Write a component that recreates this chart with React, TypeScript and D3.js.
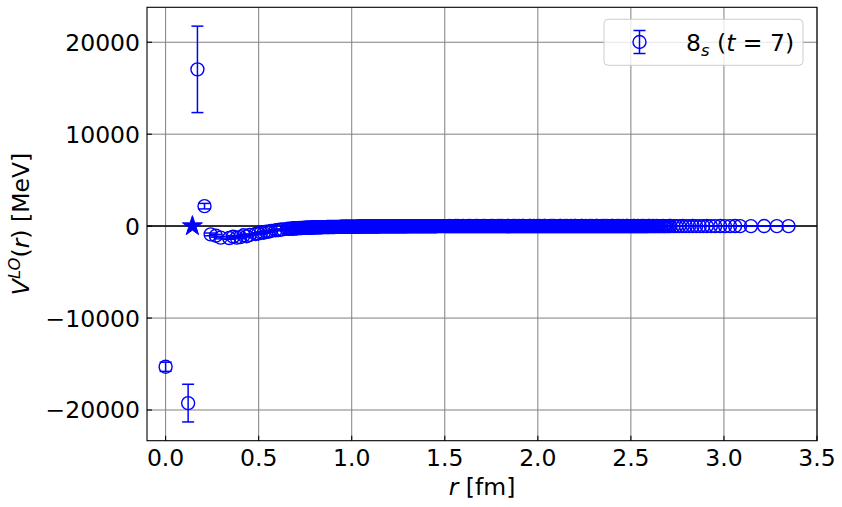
import React from "react";
import * as d3 from "d3";

// LO potential in the 8_s channel at t = 7, r in fm, V and error in MeV

const xTicks = [0, 0.5, 1, 1.5, 2, 2.5, 3, 3.5];
const yTicks = [-20000, -10000, 0, 10000, 20000];

// shortest lattice distances (large values, big error bars)
const coreR = [0.0, 0.121, 0.171, 0.209];
const coreV = [-15300, -19250, 17050, 2170];
const coreErr = [500, 2050, 4700, 300];

// separate star marker
const starR = [0.144];
const starV = [0];

// [r, V, err] for the rest of the lattice points
const headPts: [number, number, number][] = [
  [0.242, -900, 150], [0.27, -1050, 150], [0.296, -1250, 140], [0.342, -1300, 130],
  [0.363, -1150, 120], [0.382, -1250, 120], [0.401, -1200, 110], [0.419, -1000, 100],
  [0.436, -1100, 100], [0.452, -950, 90], [0.484, -850, 80], [0.498, -800, 80],
  [0.513, -700, 70], [0.527, -720, 70], [0.541, -620, 60], [0.554, -600, 60],
  [0.567, -520, 60], [0.592, -450, 50], [0.605, -430, 50], [0.616, -380, 50],
  [0.628, -360, 40], [0.651, -300, 40], [0.662, -290, 40],
];

const midPts: [number, number, number][] = [
  [0.673, -270, 40], [0.684, -260, 40], [0.697, -240, 40], [0.706, -230, 35], [0.719, -210, 35], [0.73, -200, 35],
  [0.741, -190, 35], [0.755, -175, 30], [0.764, -170, 30], [0.777, -160, 30], [0.788, -150, 30], [0.799, -145, 30],
  [0.812, -135, 30], [0.823, -130, 25], [0.834, -120, 25], [0.846, -115, 25], [0.857, -110, 25], [0.869, -100, 25],
  [0.88, -100, 25], [0.892, -95, 25], [0.903, -90, 20], [0.915, -85, 20], [0.926, -80, 20], [0.938, -80, 20],
  [0.949, -75, 20], [0.961, -70, 20], [0.972, -70, 20], [0.984, -65, 20], [0.995, -60, 20], [1.007, -60, 20],
  [1.018, -55, 20], [1.03, -55, 20], [1.041, -50, 20], [1.053, -50, 20], [1.064, -45, 15], [1.076, -45, 15],
  [1.087, -40, 15], [1.099, -40, 15], [1.11, -40, 15], [1.122, -35, 15], [1.133, -35, 15], [1.145, -35, 15],
  [1.156, -30, 15], [1.168, -30, 15], [1.179, -30, 15], [1.191, -30, 15], [1.202, -25, 15], [1.214, -25, 15],
  [1.225, -25, 15], [1.237, -25, 15], [1.248, -20, 15], [1.26, -20, 15], [1.271, -20, 15], [1.283, -20, 15],
  [1.294, -20, 15], [1.306, -15, 15], [1.317, -15, 15], [1.329, -15, 15], [1.34, -15, 15], [1.352, -15, 15],
  [1.363, -15, 15], [1.375, -10, 15], [1.386, -10, 15], [1.398, -10, 15], [1.409, -10, 15], [1.421, -10, 15],
  [1.432, -10, 15], [1.444, -10, 15], [1.455, -10, 15], [1.467, -5, 15], [1.478, -5, 15], [1.49, -5, 15],
];

// off-axis points lying between the ones above
const midOffPts: [number, number, number][] = [
  [0.679, -280, 40], [0.69, -250, 40], [0.701, -245, 40], [0.712, -220, 35], [0.724, -215, 35], [0.735, -195, 35],
  [0.748, -185, 35], [0.76, -180, 30], [0.77, -165, 30], [0.782, -155, 30], [0.793, -150, 30], [0.805, -140, 30],
  [0.817, -135, 30], [0.828, -125, 25], [0.84, -120, 25], [0.851, -110, 25], [0.863, -105, 25], [0.874, -100, 25],
  [0.886, -95, 25], [0.897, -90, 25], [0.909, -90, 20], [0.92, -85, 20], [0.932, -80, 20], [0.943, -75, 20],
  [0.955, -75, 20], [0.966, -70, 20], [0.978, -65, 20], [0.989, -65, 20], [1.001, -60, 20], [1.012, -55, 20],
  [1.024, -55, 20], [1.035, -50, 20], [1.047, -50, 20], [1.058, -45, 15], [1.07, -45, 15], [1.081, -45, 15],
  [1.093, -40, 15], [1.104, -40, 15], [1.116, -35, 15], [1.127, -35, 15], [1.139, -35, 15], [1.15, -30, 15],
  [1.162, -30, 15], [1.173, -30, 15], [1.185, -30, 15], [1.196, -25, 15], [1.208, -25, 15], [1.219, -25, 15],
  [1.231, -25, 15], [1.242, -20, 15], [1.254, -20, 15], [1.265, -20, 15], [1.277, -20, 15], [1.288, -20, 15],
  [1.3, -15, 15], [1.311, -15, 15], [1.323, -15, 15], [1.334, -15, 15], [1.346, -15, 15], [1.357, -15, 15],
  [1.369, -10, 15], [1.38, -10, 15], [1.392, -10, 15], [1.403, -10, 15], [1.415, -10, 15], [1.426, -10, 15],
  [1.438, -10, 15], [1.449, -10, 15], [1.461, -5, 15], [1.472, -5, 15], [1.484, -5, 15],
];

const farPts: [number, number, number][] = [
  [1.498, -5, 15], [1.506, 0, 15], [1.514, -5, 15], [1.522, -5, 15], [1.53, 0, 15], [1.538, -5, 15],
  [1.546, 0, 15], [1.554, -5, 15], [1.562, 0, 15], [1.57, 5, 15], [1.578, 0, 15], [1.586, -5, 15],
  [1.594, 0, 15], [1.602, 0, 15], [1.61, -5, 15], [1.618, 0, 15], [1.626, 5, 15], [1.634, 0, 15],
  [1.642, -5, 15], [1.65, 0, 15], [1.658, 0, 15], [1.666, 5, 15], [1.674, 0, 15], [1.682, -5, 15],
  [1.69, 0, 15], [1.698, 0, 15], [1.706, 5, 15], [1.714, 0, 15], [1.722, 0, 15], [1.73, -5, 15],
  [1.738, 0, 15], [1.746, 5, 15], [1.754, 0, 15], [1.762, 0, 15], [1.77, -5, 15], [1.778, 0, 15],
  [1.786, 5, 15], [1.794, 0, 15], [1.802, 0, 15], [1.81, 5, 15], [1.818, 0, 15], [1.826, -5, 15],
  [1.834, 0, 15], [1.842, 5, 15], [1.85, 0, 15], [1.858, 0, 15], [1.866, 5, 15], [1.874, 0, 15],
  [1.882, -5, 15], [1.89, 0, 15], [1.898, 5, 15], [1.906, 0, 15], [1.914, 0, 15], [1.922, 5, 15],
  [1.93, 0, 15], [1.938, -5, 15], [1.946, 0, 15], [1.954, 5, 15], [1.962, 0, 15], [1.97, 0, 15],
  [1.978, 5, 15], [1.986, 0, 15], [1.994, -5, 15], [2.002, 0, 15], [2.01, 5, 15], [2.018, 0, 15],
  [2.026, 0, 15], [2.034, 5, 15], [2.042, 0, 15], [2.05, -5, 15], [2.058, 0, 15], [2.066, 5, 15],
  [2.074, 0, 15], [2.082, 0, 15], [2.09, 5, 15], [2.098, 0, 15], [2.106, -5, 15], [2.114, 0, 15],
  [2.122, 5, 15], [2.13, 0, 15], [2.138, 0, 15], [2.146, 5, 15], [2.154, 0, 15], [2.162, -5, 15],
  [2.17, 0, 15], [2.178, 5, 15], [2.186, 0, 15], [2.194, 0, 15], [2.202, 5, 15], [2.21, 0, 15],
  [2.218, -5, 15], [2.226, 0, 15], [2.234, 5, 15], [2.242, 0, 15], [2.25, 0, 15], [2.258, 5, 15],
  [2.266, 0, 15], [2.274, -5, 15], [2.282, 0, 15], [2.29, 5, 15], [2.298, 0, 15], [2.306, 0, 15],
  [2.314, 5, 15], [2.322, 0, 15], [2.33, -5, 15], [2.338, 0, 15], [2.346, 5, 15], [2.354, 0, 15],
  [2.362, 0, 15], [2.37, 5, 15], [2.378, 0, 15], [2.386, -5, 15], [2.394, 0, 15], [2.402, 5, 15],
  [2.41, 0, 15], [2.418, 0, 15], [2.426, 5, 15], [2.434, 0, 15], [2.442, -5, 15], [2.45, 0, 15],
  [2.458, 5, 15], [2.466, 0, 15], [2.474, 0, 15], [2.482, 5, 15], [2.49, 0, 15], [2.498, -5, 15],
  [2.506, 0, 15], [2.514, 5, 15], [2.522, 0, 15], [2.53, 0, 15], [2.538, 5, 15], [2.546, 0, 15],
  [2.554, -5, 15], [2.562, 0, 15], [2.57, 5, 15], [2.578, 0, 15], [2.586, 0, 15], [2.594, 5, 15],
  [2.606, 0, 15], [2.619, 5, 15], [2.63, 0, 15], [2.645, -5, 15], [2.657, 0, 15], [2.672, 5, 15],
  [2.684, 0, 15], [2.699, 0, 15], [2.713, 5, 15], [2.729, 0, 15], [2.744, -5, 15], [2.76, 0, 15],
  [2.778, 5, 15], [2.795, 0, 15], [2.813, 0, 15], [2.832, 5, 15], [2.851, 0, 15], [2.87, -5, 15],
  [2.889, 0, 15], [2.908, 5, 15], [2.93, 0, 15], [2.953, 0, 15], [2.98, 5, 15], [3.006, 0, 15],
  [3.033, 0, 15], [3.06, 5, 15], [3.087, 0, 15], [3.145, 0, 15], [3.216, 5, 15], [3.284, 0, 15],
  [3.347, 0, 15],
];

const farOffPts: [number, number, number][] = [
  [1.502, 0, 15], [1.51, -5, 15], [1.518, 0, 15], [1.526, 5, 15], [1.534, 0, 15], [1.542, -5, 15],
  [1.55, 0, 15], [1.558, 5, 15], [1.566, 0, 15], [1.574, 0, 15], [1.582, -5, 15], [1.59, 0, 15],
  [1.598, 5, 15], [1.606, 0, 15], [1.614, 0, 15], [1.622, -5, 15], [1.63, 0, 15], [1.638, 5, 15],
  [1.646, 0, 15], [1.654, 0, 15], [1.662, -5, 15], [1.67, 0, 15], [1.678, 5, 15], [1.686, 0, 15],
  [1.694, 0, 15], [1.702, -5, 15], [1.71, 0, 15], [1.718, 5, 15], [1.726, 0, 15], [1.734, 0, 15],
  [1.742, -5, 15], [1.75, 0, 15], [1.758, 5, 15], [1.766, 0, 15], [1.774, 0, 15], [1.782, -5, 15],
  [1.79, 0, 15], [1.798, 5, 15], [1.806, 0, 15], [1.814, 0, 15], [1.822, -5, 15], [1.83, 0, 15],
  [1.838, 5, 15], [1.846, 0, 15], [1.854, 0, 15], [1.862, -5, 15], [1.87, 0, 15], [1.878, 5, 15],
  [1.886, 0, 15], [1.894, 0, 15], [1.902, -5, 15], [1.91, 0, 15], [1.918, 5, 15], [1.926, 0, 15],
  [1.934, 0, 15], [1.942, -5, 15], [1.95, 0, 15], [1.958, 5, 15], [1.966, 0, 15], [1.974, 0, 15],
  [1.982, -5, 15], [1.99, 0, 15], [1.998, 5, 15], [2.006, 0, 15], [2.014, 0, 15], [2.022, -5, 15],
  [2.03, 0, 15], [2.038, 5, 15], [2.046, 0, 15], [2.054, 0, 15], [2.062, -5, 15], [2.07, 0, 15],
  [2.078, 5, 15], [2.086, 0, 15], [2.094, 0, 15], [2.102, -5, 15], [2.11, 0, 15], [2.118, 5, 15],
  [2.126, 0, 15], [2.134, 0, 15], [2.142, -5, 15], [2.15, 0, 15], [2.158, 5, 15], [2.166, 0, 15],
  [2.174, 0, 15], [2.182, -5, 15], [2.19, 0, 15], [2.198, 5, 15], [2.206, 0, 15], [2.214, 0, 15],
  [2.222, -5, 15], [2.23, 0, 15], [2.238, 5, 15], [2.246, 0, 15], [2.254, 0, 15], [2.262, -5, 15],
  [2.27, 0, 15], [2.278, 5, 15], [2.286, 0, 15], [2.294, 0, 15], [2.302, -5, 15], [2.31, 0, 15],
  [2.318, 5, 15], [2.326, 0, 15], [2.334, 0, 15], [2.342, -5, 15], [2.35, 0, 15], [2.358, 5, 15],
  [2.366, 0, 15], [2.374, 0, 15], [2.382, -5, 15], [2.39, 0, 15], [2.398, 5, 15], [2.406, 0, 15],
  [2.414, 0, 15], [2.422, -5, 15], [2.43, 0, 15], [2.438, 5, 15], [2.446, 0, 15], [2.454, 0, 15],
  [2.462, -5, 15], [2.47, 0, 15], [2.478, 5, 15], [2.486, 0, 15], [2.494, 0, 15], [2.502, -5, 15],
  [2.51, 0, 15], [2.518, 5, 15], [2.526, 0, 15], [2.534, 0, 15], [2.542, -5, 15], [2.55, 0, 15],
  [2.558, 5, 15], [2.566, 0, 15], [2.574, 0, 15], [2.582, -5, 15], [2.59, 0, 15], [2.6, 5, 15],
  [2.612, 0, 15], [2.625, 0, 15], [2.638, 5, 15], [2.651, 0, 15], [2.664, 0, 15], [2.678, -5, 15],
  [2.691, 0, 15], [2.706, 5, 15],
];

const BLUE = "#0000ff";
const FONT = "'DejaVu Sans', sans-serif";
const FS = 23.5;

const left = 147, right = 817, top = 7.3, bottom = 440.7;

const x = d3.scaleLinear().domain([-0.1, 3.5]).range([left, right]);
const y = d3.scaleLinear().domain([-23340, 23800]).range([bottom, top]);

const fmtY = (v: number) => (v < 0 ? "\u2212" + Math.abs(v) : String(v));

const starPath = (cx: number, cy: number, R: number) => {
  const inner = R * 0.382;
  const pts: [number, number][] = [];
  for (let i = 0; i < 10; i++) {
    const a = -Math.PI / 2 + (i * Math.PI) / 5;
    const rr = i % 2 === 0 ? R : inner;
    pts.push([cx + rr * Math.cos(a), cy + rr * Math.sin(a)]);
  }
  return d3.line()(pts) + "Z";
};

const ErrPoint = ({ cx, cy, y0, y1 }: { cx: number; cy: number; y0: number; y1: number }) => (
  <g>
    <line x1={cx} x2={cx} y1={y0} y2={y1} stroke={BLUE} strokeWidth={1.5} />
    <line x1={cx - 6} x2={cx + 6} y1={y0} y2={y0} stroke={BLUE} strokeWidth={1.5} />
    <line x1={cx - 6} x2={cx + 6} y1={y1} y2={y1} stroke={BLUE} strokeWidth={1.5} />
    <circle cx={cx} cy={cy} r={6.5} fill="none" stroke={BLUE} strokeWidth={1.4} />
  </g>
);

export default function App() {
  const allPts: [number, number, number][] = [
    ...coreR.map((r, i) => [r, coreV[i], coreErr[i]] as [number, number, number]),
    ...headPts,
    ...midPts,
    ...midOffPts,
    ...farPts,
    ...farOffPts,
  ];

  return (
    <svg width={842} height={507} style={{ display: "block", position: "absolute", left: 0, top: 0 }}>
      <rect x={0} y={0} width={842} height={507} fill="white" />
      {/* grid */}
      {xTicks.map((t) => (
        <line key={"gx" + t} x1={x(t)} x2={x(t)} y1={top} y2={bottom} stroke="#808080" strokeWidth={1} />
      ))}
      {yTicks.map((t) => (
        <line key={"gy" + t} x1={left} x2={right} y1={y(t)} y2={y(t)} stroke="#808080" strokeWidth={1} />
      ))}
      {/* zero line */}
      <line x1={left} x2={right} y1={y(0)} y2={y(0)} stroke="black" strokeWidth={1.5} />

      {/* data */}
      {allPts.map(([r, v, e], i) => (
        <ErrPoint key={i} cx={x(r)} cy={y(v)} y0={y(v + e)} y1={y(v - e)} />
      ))}
      {starR.map((r, i) => (
        <path key={"s" + i} d={starPath(x(r), y(starV[i]), 10.5)} fill={BLUE} stroke={BLUE} strokeWidth={1} />
      ))}

      {/* frame */}
      <rect x={left} y={top} width={right - left} height={bottom - top} fill="none" stroke="black" strokeWidth={1.1} />

      {/* ticks */}
      {xTicks.map((t) => (
        <g key={"tx" + t}>
          <line x1={x(t)} x2={x(t)} y1={bottom} y2={bottom - 5} stroke="black" strokeWidth={1.1} />
          <text x={x(t)} y={bottom + 25} fontFamily={FONT} fontSize={FS} textAnchor="middle" fill="black">
            {t.toFixed(1)}
          </text>
        </g>
      ))}
      {yTicks.map((t) => (
        <g key={"ty" + t}>
          <line x1={left} x2={left + 5} y1={y(t)} y2={y(t)} stroke="black" strokeWidth={1.1} />
          <text x={left - 7} y={y(t)} dy="0.36em" fontFamily={FONT} fontSize={FS} textAnchor="end" fill="black">
            {fmtY(t)}
          </text>
        </g>
      ))}

      {/* axis labels */}
      <text x={(left + right) / 2} y={495} fontFamily={FONT} fontSize={FS} textAnchor="middle" fill="black">
        <tspan fontStyle="italic">r</tspan>
        <tspan> [fm]</tspan>
      </text>
      <text
        transform={`translate(29, ${(top + bottom) / 2}) rotate(-90)`}
        fontFamily={FONT}
        fontSize={FS}
        textAnchor="middle"
        fill="black"
      >
        <tspan fontStyle="italic">V</tspan>
        <tspan fontStyle="italic" fontSize={FS * 0.7} dy={-9}>LO</tspan>
        <tspan dy={9}>(</tspan>
        <tspan fontStyle="italic">r</tspan>
        <tspan>) [MeV]</tspan>
      </text>

      {/* legend */}
      <g>
        <rect x={604} y={19.3} width={199} height={46} rx={4} fill="white" fillOpacity={0.8} stroke="#cccccc" strokeWidth={1} />
        <ErrPoint cx={639.5} cy={42} y0={30.5} y1={53.5} />
        <text x={686} y={50.5} fontFamily={FONT} fontSize={FS} fill="black">
          <tspan>8</tspan>
          <tspan fontStyle="italic" fontSize={FS * 0.7} dy={5}>s</tspan>
          <tspan dy={-5}> (</tspan>
          <tspan fontStyle="italic">t</tspan>
          <tspan> = 7)</tspan>
        </text>
      </g>
    </svg>
  );
}
